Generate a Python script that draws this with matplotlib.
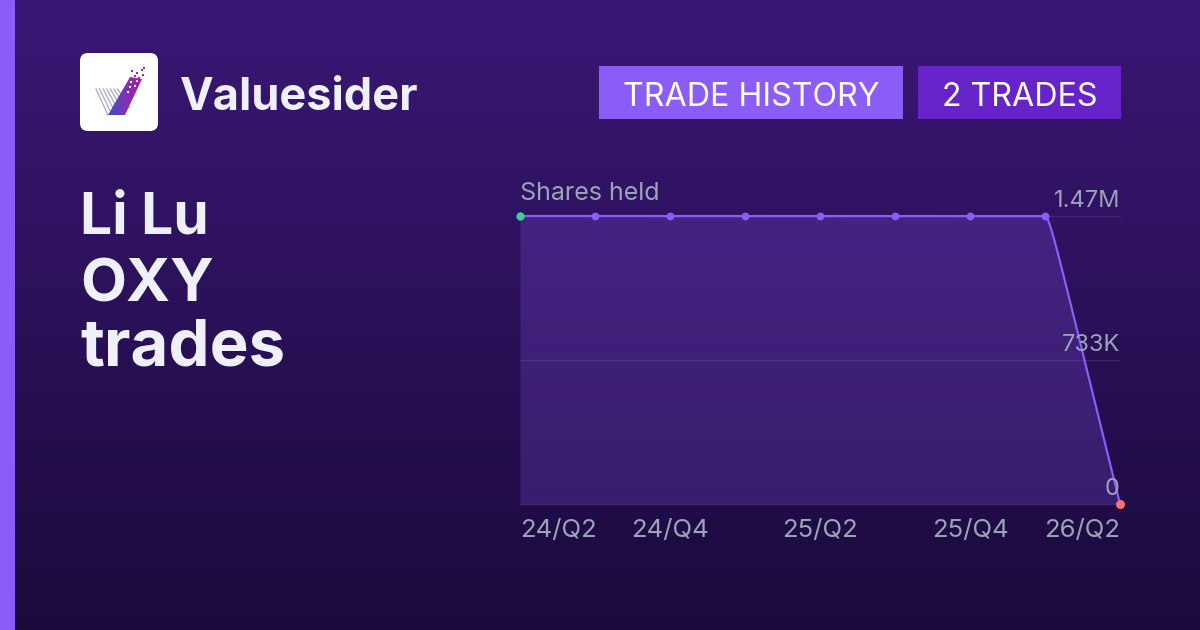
import numpy as np
import matplotlib
matplotlib.use("Agg")
import matplotlib.pyplot as plt
from matplotlib.patches import FancyBboxPatch, Polygon, Rectangle

# chart data
quarters = ["24/Q2", "24/Q3", "24/Q4", "25/Q1", "25/Q2", "25/Q3", "25/Q4", "26/Q1", "26/Q2"]
shares_held = [1470000, 1470000, 1470000, 1470000, 1470000, 1470000, 1470000, 1470000, 0]
y_ticks = [0, 733000, 1470000]
y_labels = ["0", "733K", "1.47M"]
x_tick_labels = ["24/Q2", "24/Q4", "25/Q2", "25/Q4", "26/Q2"]
x_tick_pos = [0, 2, 4, 6, 8]
title_lines = ["Li Lu", "OXY", "trades"]
brand = "Valuesider"
badges = ["TRADE HISTORY", "2 TRADES"]

W, H = 1200, 630
FONT = "Inter"
VIOLET = "#8b5cf6"
GREY = "#9aa3b8"


# line through the points, only a small rounding where it leaves the flat part
def rounded_curve(x, y, n=40):
    xs, ys = [], []
    t = np.linspace(0, 1, n)
    for i in range(len(x) - 1):
        dx = x[i + 1] - x[i]
        dy = y[i + 1] - y[i]
        # bezier controls as fractions of the segment
        bx = 3 * (1 - t)**2 * t * 0.07 + 3 * (1 - t) * t**2 * 0.2 + t**3
        by = 3 * (1 - t) * t**2 * 0.16 + t**3
        xs.append(x[i] + bx * dx)
        ys.append(y[i] + by * dy)
    return np.concatenate(xs), np.concatenate(ys)


fig = plt.figure(figsize=(W / 100, H / 100), dpi=100)

# ----------------------------
# Background, in pixel coords
# ----------------------------
bg = fig.add_axes([0, 0, 1, 1])

top = np.array(matplotlib.colors.to_rgb("#3b1775"))
bottom = np.array(matplotlib.colors.to_rgb("#1a0a3c"))
ramp = np.linspace(0, 1, H)[:, None, None]
bg.imshow(top + (bottom - top) * ramp, extent=[0, W, H, 0], aspect="auto", zorder=0)
bg.add_patch(Rectangle((0, 0), 15, H, color=VIOLET, lw=0, zorder=1))

# logo
bg.add_patch(FancyBboxPatch((80, 53), 78, 78, boxstyle="round,pad=0,rounding_size=8", fc="white", lw=0, zorder=2))
for i in range(7):
    x0 = 96 + i * 3.6
    bg.plot([x0, x0 + 12], [89, 115 - i * 1.2], color="#aeb3c4", lw=1.0, zorder=3)
check = Polygon([(108, 115), (125, 115), (142, 79), (130, 77)], closed=True, fc="none", lw=0, zorder=3)
bg.add_patch(check)
grad = np.zeros((2, 40, 3))
c0 = np.array(matplotlib.colors.to_rgb("#2a5ccc"))
c1 = np.array(matplotlib.colors.to_rgb("#b01aa8"))
grad[:] = c0 + (c1 - c0) * np.linspace(0, 1, 40)[None, :, None] ** 0.7
im = bg.imshow(grad, extent=[108, 142, 115, 77], aspect="auto", zorder=3)
im.set_clip_path(check)
dots_x = [132, 137, 142, 144, 135, 139, 143]
dots_y = [71, 73, 70, 68, 76, 78, 75]
bg.scatter(dots_x, dots_y, s=3, marker="s", color="#b01aa8", lw=0, zorder=4)
bg.scatter([131, 135, 130, 137, 128], [82, 86, 87, 81, 92], s=3, marker="s", color="white", lw=0, zorder=4)

bg.text(180, 98, brand, color="#eef0fa", fontsize=32.5, fontweight="bold", family=FONT, va="center", ha="left", zorder=5)

for line, y, size in zip(title_lines, [219, 286, 348], [41, 43, 47]):
    bg.text(80, y, line, color="#eef0fa", fontsize=size, fontweight="bold", family=FONT, va="center", ha="left", zorder=5)

# badges
bg.add_patch(Rectangle((599, 66), 304, 53, color=VIOLET, lw=0, zorder=2))
bg.add_patch(Rectangle((918, 66), 203, 53, color="#6523c8", lw=0, zorder=2))
bg.text(751, 97, badges[0], color="white", fontsize=23.2, family=FONT, va="center", ha="center", zorder=5)
bg.text(1019.5, 97, badges[1], color="white", fontsize=23.2, family=FONT, va="center", ha="center", zorder=5)

bg.set_xlim(0, W)
bg.set_ylim(H, 0)
bg.axis("off")

# ----------------------------
# Chart
# ----------------------------
ax = fig.add_axes([520 / W, 1 - 504 / H, 600 / W, 288 / H])
ax.patch.set_alpha(0)
ax.set_xlim(0, len(quarters) - 1)
ax.set_ylim(0, shares_held[0])
ax.axis("off")

cx, cy = rounded_curve(np.arange(len(quarters)), shares_held)
ax.fill_between(cx, 0, cy, color=VIOLET, alpha=0.22, lw=0, zorder=1)
for t in y_ticks:
    ax.plot([0, len(quarters) - 1], [t, t], color="#ffffff", alpha=0.09, lw=1, zorder=2, clip_on=False)
ax.plot(cx, cy, color=VIOLET, lw=1.6, zorder=3, clip_on=False)
ax.scatter(np.arange(1, 8), shares_held[1:8], s=32, color=VIOLET, lw=0, zorder=4, clip_on=False)
ax.scatter([0], shares_held[:1], s=36, color="#34d399", lw=0, zorder=4, clip_on=False)
ax.scatter([8], shares_held[8:], s=42, color="#f87171", lw=0, zorder=4, clip_on=False)

for t, lab in zip(y_ticks, y_labels):
    ax.annotate(lab, (8, t), xytext=(0, 3), textcoords="offset points", ha="right", va="bottom",
                color=GREY, fontsize=17, family=FONT, zorder=5)
for i, (p, lab) in enumerate(zip(x_tick_pos, x_tick_labels)):
    ha = "left" if i == 0 else ("right" if i == len(x_tick_pos) - 1 else "center")
    ax.annotate(lab, (p, 0), xytext=(0, -19), textcoords="offset points", ha=ha, va="center",
                color=GREY, fontsize=18.5, family=FONT)
ax.annotate("Shares held", (0, shares_held[0]), xytext=(0, 16.5), textcoords="offset points", ha="left", va="center",
            color=GREY, fontsize=18, family=FONT)

fig.savefig("out.png", dpi=100)
